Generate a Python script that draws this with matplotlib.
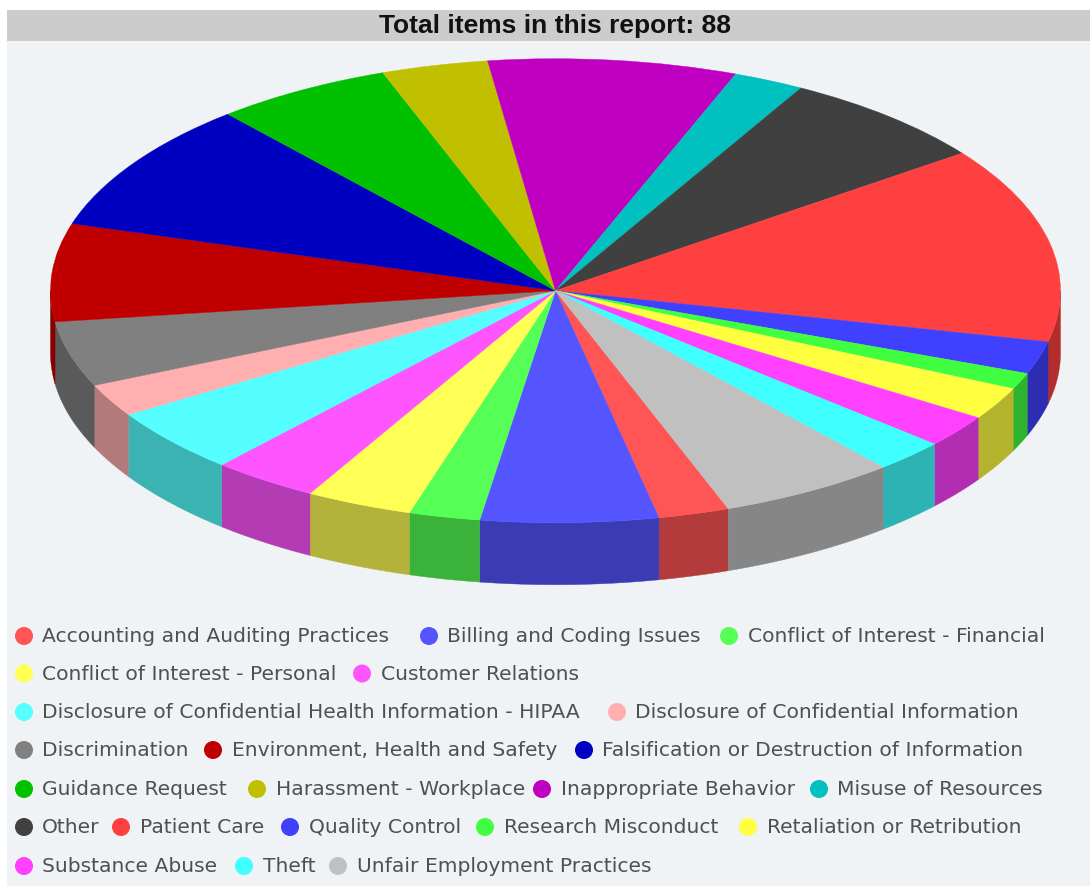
import numpy as np
import matplotlib
matplotlib.use("Agg")
import matplotlib.pyplot as plt
from matplotlib.patches import Rectangle, Circle, Polygon

W, H = 1090, 886
labels = ["Accounting and Auditing Practices", "Billing and Coding Issues", "Conflict of Interest - Financial",
          "Conflict of Interest - Personal", "Customer Relations",
          "Disclosure of Confidential Health Information - HIPAA", "Disclosure of Confidential Information",
          "Discrimination", "Environment, Health and Safety", "Falsification or Destruction of Information",
          "Guidance Request", "Harassment - Workplace", "Inappropriate Behavior", "Misuse of Resources",
          "Other", "Patient Care", "Quality Control", "Research Misconduct", "Retaliation or Retribution",
          "Substance Abuse", "Theft", "Unfair Employment Practices"]
values = [2, 5, 2, 3, 3, 4, 2, 4, 6, 8, 5, 3, 7, 2, 6, 12, 2, 1, 2, 2, 2, 5]
colors = ["#ff5555", "#5555ff", "#55ff55", "#ffff55", "#ff55ff", "#55ffff", "#ffafaf", "#808080",
          "#c00000", "#0000c0", "#00c000", "#c0c000", "#c000c0", "#00c0c0", "#404040", "#ff4040",
          "#4040ff", "#40ff40", "#ffff40", "#ff40ff", "#40ffff", "#c0c0c0"]
title = "Total items in this report: 88"
legend_rows = [[(24, 42), (429, 447), (729, 748)], [(24, 42), (362, 381)], [(24, 42), (617, 635)],
               [(24, 42), (213, 232), (584, 602)], [(24, 42), (257, 276), (542, 561), (819, 837)],
               [(24, 42), (121, 140), (290, 309), (485, 504), (748, 767)], [(24, 42), (244, 263), (338, 357)]]
legend_y = [636, 673.5, 712, 750, 789, 827, 866]

CX, CY, RX, RY, DEPTH = 555.5, 290.7, 505, 232, 62
START = -70.0

fig = plt.figure(figsize=(W / 100, H / 100), dpi=100, facecolor="white")
bg = fig.add_axes([0, 0, 1, 1], zorder=0)
bg.set_xlim(0, W)
bg.set_ylim(H, 0)
bg.axis("off")
bg.add_patch(Rectangle((7, 10), W - 7, H - 10, fc="#eff3f5", ec="none"))
bg.add_patch(Rectangle((7, 10), W - 7, 31, fc="#cccccc", ec="none"))
bg.text(555, 25.5, title, ha="center", va="center", fontsize=19, fontweight="bold",
        family="Liberation Sans", color="#111111")

ax = fig.add_axes([(CX - RX) / W, 1 - (CY + RY) / H, 2 * RX / W, 2 * RY / H], zorder=1)
edges = START - np.cumsum([0] + values) * 360 / sum(values)
dz = DEPTH / RY
for i, c in enumerate(colors):
    a2, a1 = edges[i], edges[i + 1]
    # visible outer wall: part of the slice in the lower half
    for shift in (0, 360, -360):
        lo, hi = max(a1 + shift, -180), min(a2 + shift, 0)
        if hi > lo:
            t = np.radians(np.linspace(lo, hi, 60))
            x, y = np.cos(t), np.sin(t)
            pts = np.r_[np.c_[x, y], np.c_[x, y - dz][::-1]]
            rgb = np.array(matplotlib.colors.to_rgb(c)) * 0.7
            ax.add_patch(Polygon(pts, closed=True, fc=rgb, ec=rgb, lw=0.3, clip_on=False, zorder=1))
wedges, _ = ax.pie(values, colors=colors, startangle=START, counterclock=False, radius=1,
                   wedgeprops=dict(linewidth=0.3, zorder=2))
for w, c in zip(wedges, colors):
    w.set_edgecolor(c)
    w.set_clip_on(False)
ax.set_aspect("auto")
ax.set_xlim(-1, 1)
ax.set_ylim(-1, 1)
ax.axis("off")

k = 0
for row, y in zip(legend_rows, legend_y):
    for mx, tx in row:
        bg.add_patch(Circle((mx, y), 9, fc=colors[k], ec="none"))
        bg.text(tx, y + 0.5, labels[k], ha="left", va="center", fontsize=14.6,
                family="DejaVu Sans", color="#505050")
        k += 1
fig.savefig("out.png", dpi=100, facecolor="white")
